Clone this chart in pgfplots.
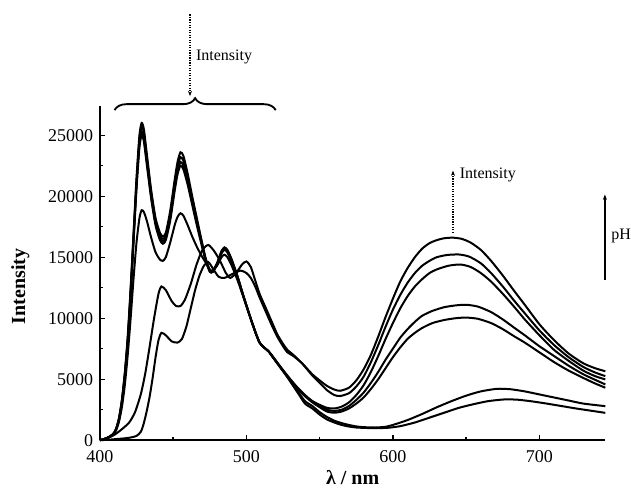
\documentclass[border=0pt]{standalone}
\usepackage{fontspec}
\setmainfont{Liberation Serif}
\usepackage{pgfplots}
\pgfplotsset{compat=1.18}
\usetikzlibrary{decorations.pathreplacing,arrows.meta}
\begin{document}
\begin{tikzpicture}
\begin{axis}[
  scale only axis, width=379.5pt, height=251pt,
  xmin=400, xmax=745, ymin=0, ymax=27400,
  axis x line*=bottom, axis y line*=left,
  axis line style={line width=1.3pt},
  tick align=inside, major tick length=4pt, minor tick length=2.5pt,
  tick style={line width=1pt, black},
  xtick={400,500,600,700}, minor xtick={450,550,650},
  ytick={0,5000,10000,15000,20000,25000},
  minor ytick={2500,7500,12500,17500,22500},
  scaled y ticks=false,
  /pgf/number format/1000 sep={},
  /pgf/number format/assume math mode=true,
  ticklabel style={font=\fontsize{13.5}{15}\selectfont},
  xticklabel style={yshift=-4pt},
  yticklabel style={xshift=-1.5pt},
  xlabel={\textbf{λ / nm}}, ylabel={\textbf{Intensity}},
  label style={font=\fontsize{15}{17}\selectfont},
  xlabel style={yshift=1pt},
  ylabel style={at={(axis description cs:-0.13,0.46)}},
  clip=false,
  cycle list={{black, solid, no markers}},
  every axis plot/.append style={line width=1.5pt, smooth, tension=0.4},
]
% G
\addplot coordinates {(400,0)(403,100)(406,250)(409,500)(411,900)(413,1800)(415,3300)(417,5500)(419,8500)(421,12500)(423,17000)(425,21500)(427,25000)(428.5,26000)(430,25500)(432,23500)(435,20500)(438,18200)(441,17000)(443,16700)(445,17000)(448,18800)(451,21300)(453,22800)(455,23600)(457,23300)(460,21800)(463,20000)(466,18300)(469,16600)(472,15000)(475,13900)(477,13800)(480,14500)(483,15500)(485,15800)(487,15600)(490,14800)(494,13400)(498,11800)(502,10300)(506,8900)(509,8000)(512,7600)(515,7300)(518,6800)(522,6150)(526,5500)(530,4800)(535,3900)(540,3000)(545,2600)(550,2100)(555,1700)(560,1450)(565,1250)(570,1120)(575,1040)(582,1000)(590,990)(597,1020)(605,1150)(615,1450)(625,1850)(635,2250)(645,2650)(655,2950)(665,3200)(676,3340)(685,3320)(695,3180)(705,3000)(715,2800)(725,2600)(735,2420)(745,2240)};
% F
\addplot coordinates {(400,0)(403,100)(406,250)(409,500)(411,900)(413,1750)(415,3200)(417,5400)(419,8300)(421,12300)(423,16800)(425,21200)(427,24700)(428.5,25700)(430,25200)(432,23200)(435,20300)(438,18000)(441,16800)(443,16500)(445,16800)(448,18500)(451,21000)(453,22400)(455,23200)(457,22900)(460,21500)(463,19800)(466,18100)(469,16500)(472,14900)(475,13850)(477,13800)(480,14450)(483,15450)(485,15750)(487,15550)(490,14750)(494,13400)(498,11800)(502,10300)(506,8900)(509,8000)(512,7600)(515,7300)(518,6800)(522,6150)(526,5500)(530,4850)(535,4000)(540,3200)(545,2800)(550,2300)(555,1900)(560,1600)(565,1400)(570,1250)(575,1130)(580,1070)(588,1040)(595,1100)(600,1250)(610,1650)(620,2150)(630,2700)(640,3200)(650,3650)(660,4000)(671,4210)(680,4180)(690,4000)(700,3750)(710,3500)(720,3250)(730,3000)(745,2790)};
% E
\addplot coordinates {(400,0)(403,100)(406,250)(409,500)(411,900)(413,1700)(415,3100)(417,5300)(419,8100)(421,12000)(423,16500)(425,20900)(427,24300)(428.5,25300)(430,24800)(432,22900)(435,20000)(438,17800)(441,16600)(443,16300)(445,16600)(448,18200)(451,20700)(453,22100)(455,22800)(457,22500)(460,21100)(463,19500)(466,17900)(469,16400)(472,14900)(475,13900)(477,13900)(480,14500)(483,15400)(485,15700)(487,15500)(490,14700)(494,13300)(498,11800)(502,10300)(506,8900)(509,8000)(512,7600)(515,7300)(518,6850)(522,6200)(526,5550)(530,4900)(535,4200)(540,3600)(545,3100)(550,2700)(555,2350)(560,2250)(565,2350)(570,2600)(575,3000)(580,3500)(585,4200)(590,5000)(595,5900)(600,6800)(605,7600)(610,8300)(615,8800)(620,9200)(627,9600)(635,9850)(643,10000)(650,10050)(658,9950)(667,9600)(675,9100)(683,8500)(690,8000)(700,7200)(710,6400)(720,5700)(730,5100)(738,4650)(745,4300)};
% D
\addplot coordinates {(400,0)(403,100)(406,250)(409,480)(411,850)(413,1650)(415,3000)(417,5100)(419,7900)(421,11800)(423,16300)(425,20600)(427,24000)(428.5,25000)(430,24500)(432,22600)(435,19800)(438,17600)(441,16400)(443,16100)(445,16400)(448,18000)(451,20400)(453,21800)(455,22500)(457,22200)(460,20900)(463,19300)(466,17700)(469,16200)(472,14800)(475,13800)(477,13800)(480,14400)(483,15300)(485,15600)(487,15400)(490,14600)(494,13300)(498,11800)(502,10300)(506,8900)(509,8000)(512,7600)(515,7300)(518,6850)(522,6200)(526,5550)(530,4950)(535,4250)(540,3650)(545,3200)(550,2800)(555,2500)(560,2400)(565,2500)(570,2800)(575,3300)(580,3900)(585,4700)(590,5600)(595,6600)(600,7500)(605,8400)(610,9100)(615,9700)(620,10200)(627,10600)(635,10900)(643,11050)(650,11100)(658,10950)(667,10500)(675,9900)(683,9200)(690,8600)(700,7700)(710,6900)(720,6100)(730,5400)(738,4950)(745,4570)};
% C
\addplot coordinates {(400,0)(403,90)(406,230)(409,450)(411,800)(413,1500)(415,2700)(417,4500)(419,7000)(421,10000)(423,13300)(425,16200)(427,18200)(428.5,18850)(430,18700)(432,18000)(435,16600)(438,15400)(441,14800)(443,14700)(445,15000)(448,16200)(451,17600)(453,18300)(455,18600)(457,18400)(460,17600)(463,16700)(466,15900)(469,15200)(472,14600)(475,14000)(477,13900)(480,14300)(483,15000)(485,15200)(487,15000)(490,14300)(494,13100)(498,11700)(502,10300)(506,8900)(509,8000)(512,7600)(515,7300)(518,6850)(522,6200)(526,5600)(530,5000)(535,4300)(540,3700)(545,3200)(550,2900)(555,2650)(560,2600)(565,2750)(570,3100)(575,3700)(580,4500)(585,5600)(590,6900)(595,8300)(600,9600)(605,10800)(610,11800)(615,12600)(620,13200)(625,13700)(630,14000)(638,14300)(646,14400)(653,14200)(660,13700)(667,13000)(675,12000)(683,10900)(690,9900)(700,8600)(710,7400)(720,6500)(730,5700)(738,5250)(745,4980)};
% B
\addplot coordinates {(400,0)(405,150)(410,450)(415,900)(420,1450)(424,2300)(428,3800)(431,5500)(434,7700)(437,10000)(440,12000)(442,12600)(445,12300)(449,11400)(452,11000)(455,11000)(458,11500)(462,12800)(466,14400)(470,15600)(474,16000)(478,15500)(482,14700)(486,13700)(489,13300)(493,13700)(497,14400)(500,14650)(503,14200)(506,13100)(509,12000)(513,10900)(517,9800)(521,8700)(525,7900)(528,7400)(532,7000)(538,6300)(545,5300)(550,4700)(555,4100)(560,3700)(564,3620)(570,3850)(575,4400)(580,5200)(585,6400)(590,7800)(595,9300)(600,10700)(605,11900)(610,12900)(615,13700)(620,14300)(625,14700)(630,15000)(637,15180)(645,15220)(652,15050)(660,14500)(667,13700)(675,12600)(683,11400)(690,10400)(700,9000)(710,7800)(720,6800)(730,6000)(738,5550)(745,5250)};
% A
\addplot coordinates {(400,0)(405,30)(410,80)(415,130)(420,200)(425,350)(428,700)(430,1400)(432,2400)(434,3600)(436,5100)(438,6800)(440,8200)(442,8800)(445,8600)(449,8100)(453,8000)(456,8300)(459,9300)(462,10800)(465,12300)(468,13500)(471,14300)(474,14600)(477,14100)(481,13400)(485,13300)(490,13600)(496,13900)(500,13700)(503,13300)(506,12600)(509,11700)(513,10600)(517,9500)(521,8500)(525,7700)(528,7200)(532,6900)(538,6300)(545,5400)(550,4900)(555,4450)(560,4150)(564,4050)(570,4300)(575,4900)(580,5800)(585,7000)(590,8500)(595,10100)(600,11600)(605,13000)(610,14100)(615,15000)(620,15700)(625,16150)(630,16400)(635,16550)(641,16600)(647,16500)(653,16200)(660,15600)(667,14700)(675,13500)(683,12200)(690,11100)(700,9500)(710,8200)(720,7100)(730,6300)(738,5900)(745,5650)};
% annotations
\draw[decorate, decoration={brace, amplitude=9pt}, line width=1.4pt] (axis cs:410,27050) -- (axis cs:520,27050);
\draw[densely dotted, line width=0.9pt, -{Stealth[length=4pt,width=3pt]}] (axis cs:461.5,34900) -- (axis cs:461.5,28200);
\node[anchor=west, font=\fontsize{12}{14}\selectfont, inner sep=0pt] at (axis cs:465.5,31450) {Intensity};
\draw[densely dotted, line width=0.9pt, -{Stealth[length=4pt,width=3pt]}] (axis cs:641,17000) -- (axis cs:641,22100);
\node[anchor=west, font=\fontsize{12}{14}\selectfont, inner sep=0pt] at (axis cs:645.5,21760) {Intensity};
\draw[line width=1pt, -{Stealth[length=4pt,width=3pt]}] (axis cs:744.7,13170) -- (axis cs:744.7,20140);
\node[anchor=west, font=\fontsize{12}{14}\selectfont, inner sep=0pt] at (axis cs:749,16700) {pH};
\end{axis}
\path ([xshift=-75pt,yshift=-43pt]current axis.south west) rectangle ([xshift=18.75pt,yshift=79.5pt]current axis.north east);
\end{tikzpicture}
\end{document}
